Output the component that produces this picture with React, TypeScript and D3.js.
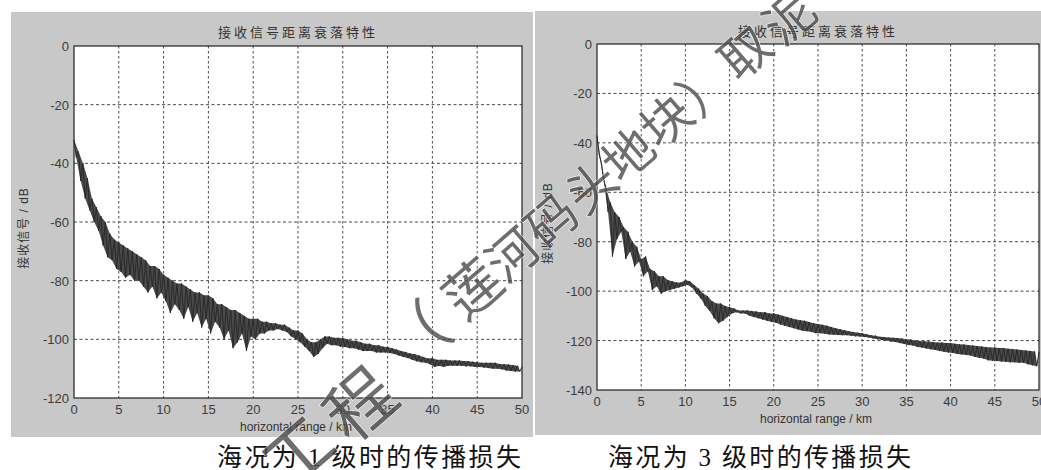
import React from "react";
import * as d3 from "d3";

// Received signal vs. horizontal range, sampled every 0.25 km (0 … 50 km).
// Each row holds one km; the trace alternates crest, trough, crest, trough.
const STEP_KM = 0.25;

const seaState1Db: number[] = [
  -32, -38, -36, -46,
  -40, -52, -45, -56,
  -52, -60, -55, -63,
  -58, -68, -60, -72,
  -64, -73, -66, -76,
  -67, -77, -68, -79,
  -69, -78, -70, -80,
  -71, -80, -72, -82,
  -73, -84, -75, -82,
  -75, -86, -76, -84,
  -78, -87, -79, -91,
  -80, -88, -81, -90,
  -81, -93, -82, -89,
  -83, -94, -84, -91,
  -84, -96, -85, -93,
  -85, -98, -86, -94,
  -88, -96, -88, -100,
  -89, -97, -90, -103,
  -90, -101, -91, -98,
  -92, -104, -93, -99,
  -93, -100, -93, -98,
  -94, -98, -94, -97,
  -94.5, -97, -94.5, -96.5,
  -95, -97, -95, -97.5,
  -96, -99, -97, -100,
  -97, -101, -98, -102.5,
  -100, -104, -101, -106,
  -101, -105, -100, -103,
  -99, -101.5, -99, -102,
  -99.5, -102, -99.5, -102.5,
  -99.6, -102.6, -100, -103,
  -100.5, -103, -100.5, -103.5,
  -101, -104, -101.5, -104,
  -101.5, -104, -102, -104.5,
  -102, -104.5, -102.5, -104.5,
  -102.6, -104.7, -103, -105,
  -103.5, -105.5, -104, -106,
  -104.3, -106.4, -104.8, -107,
  -105, -107.5, -105.5, -107.8,
  -106, -108, -106.5, -108.5,
  -106.4, -109.4, -107, -109,
  -107, -109.4, -107, -109,
  -107.2, -109, -107.2, -109,
  -107.2, -109, -107.4, -109.2,
  -107.5, -109.2, -107.6, -109.4,
  -107.8, -109.4, -108, -109.6,
  -108, -109.8, -108, -110,
  -108, -110, -108.4, -110.2,
  -108.5, -110.6, -108.6, -110.8,
  -108.8, -111, -109, -111,
  -109.4,
];

const seaState3Db: number[] = [
  -37, -45, -48, -55,
  -58, -68, -64, -86,
  -68, -79, -70, -76,
  -74, -87, -76, -84,
  -80, -90, -82, -88,
  -87, -94, -86, -92,
  -91, -99.5, -92, -98,
  -94, -101, -94, -100,
  -95.5, -99.5, -96, -99,
  -96.5, -98.5, -96.5, -98,
  -95.5, -97.5, -96, -98.5,
  -97.5, -101, -99, -103,
  -101, -106, -102, -108,
  -104, -111, -105, -113,
  -105, -112, -106, -110.5,
  -106.5, -109, -107, -108.5,
  -107.8, -109, -107.8, -109,
  -107.8, -110, -108, -110.5,
  -108.2, -111, -108.5, -111.5,
  -108.5, -112, -109, -112.5,
  -109, -112.8, -109.5, -113.5,
  -110, -114, -110.5, -114.5,
  -111, -115, -111.5, -115.5,
  -111.8, -116, -112, -116.2,
  -112.5, -116.5, -113, -117,
  -113.3, -117, -113.6, -117.2,
  -114, -117.5, -114.5, -117.6,
  -115, -117.7, -115.4, -117.8,
  -115.8, -117.8, -116.2, -118,
  -116.5, -118.3, -116.8, -118.4,
  -117, -118.6, -117.4, -118.8,
  -117.8, -119.2, -118, -119.5,
  -118.5, -119.8, -118.6, -120,
  -118.8, -120.4, -118.9, -120.6,
  -119, -121, -119.2, -121.4,
  -119.5, -121.8, -119.6, -122,
  -120, -122.6, -120.2, -122.8,
  -120.3, -123.2, -120.4, -123.5,
  -120.6, -123.8, -120.8, -124.2,
  -120.8, -124.5, -121, -124.8,
  -121, -125, -121.3, -125.4,
  -121.5, -125.6, -121.6, -125.8,
  -121.8, -126, -122, -126.6,
  -122.2, -127, -122.4, -127.3,
  -122.6, -128, -122.8, -128.2,
  -122.8, -128.3, -123, -128.5,
  -123, -128.6, -123.3, -128.8,
  -123.4, -128.8, -123.6, -129,
  -123.8, -129, -124, -129.6,
  -124.2, -130, -124.4, -130.4,
  -124.6,
];

const rangeTicks: number[] = [0, 5, 10, 15, 20, 25, 30, 35, 40, 45, 50];
const dbTicksA: number[] = [0, -20, -40, -60, -80, -100, -120];
const dbTicksB: number[] = [0, -20, -40, -60, -80, -100, -120, -140];

const titleText = "接收信号距离衰落特性";
const xLabelText = "horizontal range / km";
const yLabelText = "接收信号 / dB";
const captions: string[] = ["海况为 1 级时的传播损失", "海况为 3 级时的传播损失"];

// diagonal stamp across the page, one glyph at a time
const stampGlyphs: { ch: string; x: number; y: number; size: number }[] = [
  { ch: "工", x: 295, y: 449, size: 68 },
  { ch: "程", x: 357, y: 401, size: 68 },
  { ch: "（", x: 414, y: 334, size: 62 },
  { ch: "莲", x: 470, y: 286, size: 56 },
  { ch: "河", x: 510, y: 252, size: 50 },
  { ch: "码", x: 549, y: 218, size: 50 },
  { ch: "头", x: 589, y: 184, size: 50 },
  { ch: "地", x: 626, y: 152, size: 50 },
  { ch: "块", x: 664, y: 118, size: 50 },
  { ch: "）", x: 703, y: 85, size: 50 },
  { ch: "取", x: 743, y: 50, size: 50 },
  { ch: "泥", x: 787, y: 15, size: 50 },
];

const UI_FONT = "'Liberation Sans', Arial, 'Noto Sans CJK SC', sans-serif";
const CAPTION_FONT = "'Liberation Serif', 'Noto Sans CJK SC', serif";

type Swing = { crestKm: number; crest: number; troughKm: number; trough: number };

// pair each crest with the trough that follows it
function toSwings(values: number[]): Swing[] {
  const out: Swing[] = [];
  for (let i = 0; i + 1 < values.length; i += 2) {
    out.push({
      crestKm: i * STEP_KM,
      crest: values[i],
      troughKm: (i + 1) * STEP_KM,
      trough: values[i + 1],
    });
  }
  return out;
}

type PanelProps = {
  panel: { x: number; y: number; w: number; h: number };
  plot: { left: number; top: number; right: number; bottom: number };
  values: number[];
  dbTicks: number[];
  dbMin: number;
  caption: string;
  captionX: number;
  captionWidth: number;
};

function Panel({ panel, plot, values, dbTicks, dbMin, caption, captionX, captionWidth }: PanelProps) {
  const x = d3.scaleLinear().domain([0, 50]).range([plot.left, plot.right]);
  const y = d3.scaleLinear().domain([dbMin, 0]).range([plot.bottom, plot.top]);
  const line = d3
    .line<number>()
    .x((_, i) => x(i * STEP_KM))
    .y((v) => y(v));
  const band = d3
    .area<Swing>()
    .x0((s) => x(s.troughKm))
    .y0((s) => y(s.trough))
    .x1((s) => x(s.crestKm))
    .y1((s) => y(s.crest));
  const swings = toSwings(values);
  const cx = (plot.left + plot.right) / 2;
  const cy = (plot.top + plot.bottom) / 2;

  return (
    <g>
      <rect x={panel.x} y={panel.y} width={panel.w} height={panel.h} fill="#c8c8c8" />
      <rect
        x={plot.left}
        y={plot.top}
        width={plot.right - plot.left}
        height={plot.bottom - plot.top}
        fill="#ffffff"
      />
      {/* dotted grid */}
      {rangeTicks.slice(1, -1).map((t) => (
        <line
          key={"gx" + t}
          x1={x(t)}
          x2={x(t)}
          y1={plot.top}
          y2={plot.bottom}
          stroke="#4a4a4a"
          strokeWidth={1}
          strokeDasharray="2.5 2.5"
        />
      ))}
      {dbTicks.slice(1, -1).map((t) => (
        <line
          key={"gy" + t}
          x1={plot.left}
          x2={plot.right}
          y1={y(t)}
          y2={y(t)}
          stroke="#4a4a4a"
          strokeWidth={1}
          strokeDasharray="3 2.5"
        />
      ))}
      <path d={band(swings) ?? ""} fill="#4a4a4a" stroke="none" />
      <path d={line(values) ?? ""} fill="none" stroke="#2a2a2a" strokeWidth={1} strokeLinejoin="round" />
      <rect
        x={plot.left}
        y={plot.top}
        width={plot.right - plot.left}
        height={plot.bottom - plot.top}
        fill="none"
        stroke="#222"
        strokeWidth={1.2}
      />
      {/* tick labels */}
      {rangeTicks.map((t) => (
        <text
          key={"tx" + t}
          x={x(t)}
          y={plot.bottom + 16}
          textAnchor="middle"
          fontFamily={UI_FONT}
          fontSize={13}
          fill="#3c3c3c"
        >
          {t}
        </text>
      ))}
      {dbTicks.map((t) => (
        <text
          key={"ty" + t}
          x={plot.left - 5}
          y={y(t) + 5}
          textAnchor="end"
          fontFamily={UI_FONT}
          fontSize={13}
          fill="#3c3c3c"
        >
          {t}
        </text>
      ))}
      <text
        x={cx}
        y={panel.y + 25}
        textAnchor="middle"
        fontFamily={UI_FONT}
        fontSize={13}
        letterSpacing={3}
        fill="#333"
      >
        {titleText}
      </text>
      <text
        x={cx - 2}
        y={plot.bottom + 33}
        textAnchor="middle"
        fontFamily={UI_FONT}
        fontSize={12}
        fill="#333"
      >
        {xLabelText}
      </text>
      <text
        transform={`translate(${panel.x + 17},${cy + 6}) rotate(-90)`}
        textAnchor="middle"
        fontFamily={UI_FONT}
        fontSize={12}
        letterSpacing={1}
        fill="#333"
      >
        {yLabelText}
      </text>
      <text
        x={captionX}
        y={466}
        fontFamily={CAPTION_FONT}
        fontSize={25}
        textLength={captionWidth}
        lengthAdjust="spacing"
        fill="#111"
      >
        {caption}
      </text>
    </g>
  );
}

export default function App() {
  return (
    <div style={{ position: "absolute", left: 0, top: 0 }}>
      <svg width={1041} height={470} viewBox="0 0 1041 470" style={{ display: "block" }}>
        <rect x={0} y={0} width={1041} height={470} fill="#ffffff" />
        <Panel
          panel={{ x: 11, y: 12, w: 522, h: 425 }}
          plot={{ left: 74, top: 46, right: 522, bottom: 398 }}
          values={seaState1Db}
          dbTicks={dbTicksA}
          dbMin={-120}
          caption={captions[0]}
          captionX={217}
          captionWidth={304}
        />
        <Panel
          panel={{ x: 535, y: 11, w: 506, h: 424 }}
          plot={{ left: 597, top: 44, right: 1039, bottom: 390 }}
          values={seaState3Db}
          dbTicks={dbTicksB}
          dbMin={-140}
          caption={captions[1]}
          captionX={608}
          captionWidth={303}
        />
        <g opacity={0.8}>
          {stampGlyphs.map((g, i) => (
            <text
              key={i}
              transform={`translate(${g.x},${g.y}) rotate(-41)`}
              textAnchor="middle"
              dominantBaseline="central"
              fontFamily="'Noto Sans CJK SC', sans-serif"
              fontSize={g.size}
              fill="#4a4a4a"
              stroke="#ffffff"
              strokeWidth={1.2}
              paintOrder="stroke"
            >
              {g.ch}
            </text>
          ))}
        </g>
      </svg>
    </div>
  );
}
